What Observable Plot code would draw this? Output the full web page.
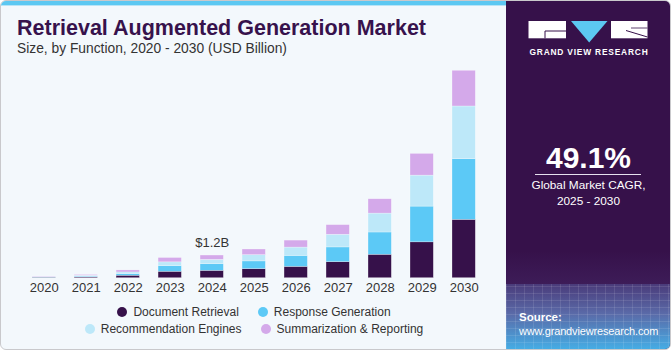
<!DOCTYPE html>
<html>
<head>
<meta charset="utf-8">
<script src="https://cdn.jsdelivr.net/npm/d3@7"></script>
<script src="https://cdn.jsdelivr.net/npm/@observablehq/plot@0.6"></script>
<style>
  html, body { margin: 0; padding: 0; background: #ffffff; }
  #card {
    position: relative; width: 669px; height: 348px;
    background: #f3f8fc; border: 1px solid #c9c9cc; border-radius: 6px;
    overflow: hidden; font-family: "Liberation Sans", Arial, sans-serif;
  }
  #stripe { position: absolute; left: 0; top: 0; width: 505px; height: 4px; background: #5cc8f2; border-bottom: 1px solid #b7e4f7; }
  #title { position: absolute; left: 16px; top: 15px; font-size: 21.5px; font-weight: 900; color: #37124c; letter-spacing: 0px; white-space: nowrap; }
  #subtitle { position: absolute; left: 16px; top: 40px; font-size: 13.8px; color: #333; white-space: nowrap; }
  #chart { position: absolute; left: 0; top: 0; }
  #legend {
    position: absolute; left: 80px; top: 303px; width: 346px;
    display: flex; flex-wrap: wrap; justify-content: center; column-gap: 19px; row-gap: 2px;
    font-size: 12px; color: #333;
  }
  .item { display: flex; align-items: center; height: 15px; white-space: nowrap; }
  .dot { width: 10px; height: 10px; border-radius: 50%; margin-right: 6px; }
  #panel { position: absolute; left: 505px; top: 0; width: 165px; height: 348px; background: #36114a; overflow: hidden; }
  #grid {
    position: absolute; left: 0; top: 283px; width: 165px; height: 66px;
    background:
      repeating-linear-gradient(90deg, rgba(255,255,255,0.10) 0 1px, transparent 1px 9px),
      repeating-linear-gradient(0deg, rgba(255,255,255,0.10) 0 1px, transparent 1px 7px),
      linear-gradient(180deg, #4a3b7a 0%, #5a6aa8 45%, #45aee6 100%);
  }
  #panelTop { position: absolute; left: 0; top: 250px; width: 165px; height: 33px; background: linear-gradient(180deg, #36114a, #3d1c58); }
  #cagr { position: absolute; left: 0; width: 165px; top: 140px; text-align: center; color: #fff; font-size: 30px; font-weight: bold; }
  #rule { position: absolute; left: 29px; width: 106px; top: 173px; height: 1px; background: #e6e0ee; }
  #cagrText { position: absolute; left: 0; width: 165px; top: 177px; text-align: center; color: #fff; font-size: 11.8px; line-height: 15.5px; }
  #source { position: absolute; left: 13px; top: 309px; color: #fff; font-size: 11px; line-height: 14px; letter-spacing: -0.15px; }
  #source b { font-weight: bold; font-size: 11.5px; letter-spacing: 0; }
  #logoText { position: absolute; left: 22px; top: 46px; width: 122px; text-align: center; color: #fff; font-size: 8.4px; font-weight: bold; letter-spacing: 0.8px; white-space: nowrap; }
</style>
</head>
<body>
<div id="card">
  <div id="stripe"></div>
  <div id="title">Retrieval Augmented Generation Market</div>
  <div id="subtitle">Size, by Function, 2020 - 2030 (USD Billion)</div>
  <div id="chart"></div>
  <div id="legend"></div>
  <div id="panel">
    <div id="panelTop"></div>
    <div id="grid"></div>
    <svg width="165" height="60" style="position:absolute;left:0;top:0">
      <rect x="22.5" y="20" width="37.5" height="17.3" fill="#fff"/>
      <path d="M39 37.3 V30 H60" fill="none" stroke="#36114a" stroke-width="1"/>
      <polygon points="65,20 101.5,20 83.2,41.5" fill="#5cc8f2"/>
      <rect x="105" y="20" width="36.5" height="17.3" fill="#fff"/>
      <path d="M120 29.5 L141.5 36" fill="none" stroke="#36114a" stroke-width="1"/>
      <path d="M125 27 H141.5" fill="none" stroke="#36114a" stroke-width="0.8"/>
    </svg>
    <div id="logoText">GRAND VIEW RESEARCH</div>
    <div id="cagr">49.1%</div>
    <div id="rule"></div>
    <div id="cagrText">Global Market CAGR,<br>2025 - 2030</div>
    <div id="source"><b>Source:</b><br>www.grandviewresearch.com</div>
  </div>
</div>
<script>
const years = ["2020","2021","2022","2023","2024","2025","2026","2027","2028","2029","2030"];
const series = ["Document Retrieval","Response Generation","Recommendation Engines","Summarization & Reporting"];
const documentRetrieval     = [0.025, 0.05, 0.13, 0.34, 0.39, 0.48, 0.60, 0.85, 1.24, 1.90, 3.09];
const responseGeneration    = [0.02, 0.04, 0.085, 0.30, 0.35, 0.41, 0.58, 0.78, 1.18, 1.89, 3.21];
const recommendationEngines = [0.02, 0.04, 0.09, 0.20, 0.23, 0.33, 0.44, 0.67, 1.00, 1.64, 2.79];
const summarizationReporting= [0.02, 0.04, 0.105, 0.23, 0.23, 0.30, 0.37, 0.51, 0.76, 1.15, 1.89];
const colors = ["#36114a", "#5cc9f6", "#bde8f9", "#d4a9ea"];
const labelYear = "2024";

const valuesBySeries = [documentRetrieval, responseGeneration, recommendationEngines, summarizationReporting];
const rows = [];
series.forEach((s, i) => years.forEach((y, j) => rows.push({year: y, series: s, value: valuesBySeries[i][j]})));
const totals = years.map((y, j) => ({year: y, total: d3.sum(valuesBySeries, v => v[j])}));

const chart = Plot.plot({
  width: 505,
  height: 348,
  marginTop: 68.9,
  marginBottom: 71.3,
  marginLeft: 12.4,
  marginRight: 12,
  style: {background: "transparent", fontFamily: "Liberation Sans, Arial, sans-serif"},
  x: {domain: years, padding: 0.445, round: false, label: null, tickSize: 0, tickPadding: 5},
  y: {domain: [0, 11], axis: null},
  color: {domain: series, range: colors},
  marks: [
    Plot.barY(rows, {x: "year", y: "value", fill: "series", stroke: "#ffffff", strokeOpacity: 0.45, strokeWidth: 0.6}),
    Plot.text(totals.filter(d => d.year === labelYear), {x: "year", y: "total", text: d => `$${d.total.toFixed(1)}B`, dy: -12.5, fontSize: 13, fill: "#333"}),
    Plot.axisX({tickSize: 0, tickPadding: 5, fontSize: 13, color: "#333", label: null})
  ]
});
document.getElementById("chart").appendChild(chart);

const legend = document.getElementById("legend");
series.forEach((s, i) => {
  const item = document.createElement("div");
  item.className = "item";
  const dot = document.createElement("span");
  dot.className = "dot";
  dot.style.background = colors[i];
  item.appendChild(dot);
  item.appendChild(document.createTextNode(s));
  legend.appendChild(item);
});
</script>
</body>
</html>
